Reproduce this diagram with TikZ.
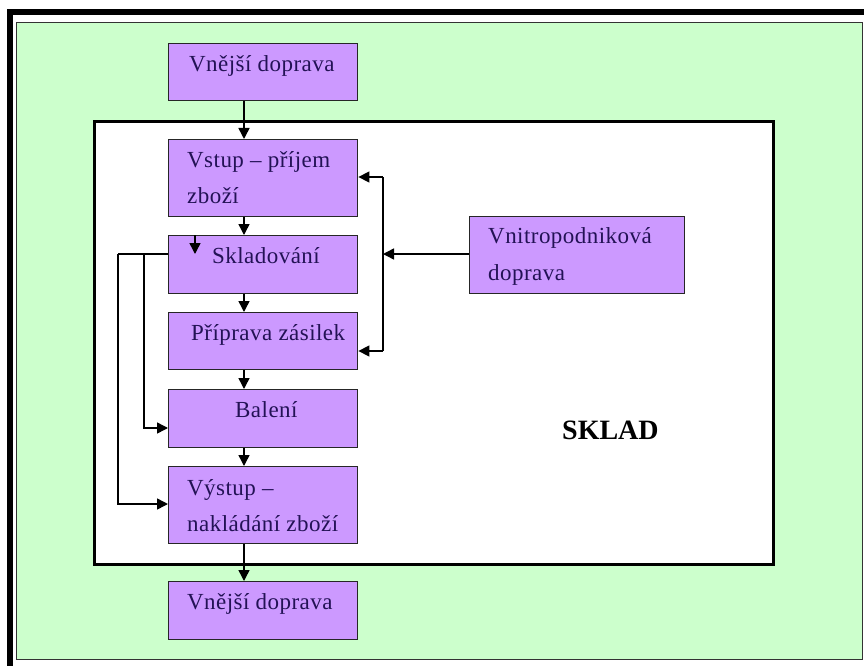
\documentclass[tikz,border=0pt]{standalone}
\usepackage{fontspec}
\setmainfont{Liberation Serif}
\usetikzlibrary{arrows.meta}
\definecolor{lilac}{RGB}{204,153,255}
\definecolor{mint}{RGB}{204,255,204}
\definecolor{navy}{RGB}{35,18,85}
\tikzset{
  box/.style={draw=black!85, line width=1.4pt, fill=lilac, inner sep=0pt},
  lbl/.style={anchor=base west, inner sep=0pt, text=navy, font=\fontsize{23}{26}\selectfont\addfontfeature{LetterSpace=2}},
  conn/.style={draw=black, line width=1.5pt},
  arr/.style={conn, -{Triangle[length=11pt,width=11pt]}},
}
\newcommand{\mybox}[5]{\node[box, minimum width=#4pt-#2pt, minimum height=#5pt-#3pt, anchor=north west] (#1) at (#2,#3) {};}
\begin{document}
\begin{tikzpicture}[x=1pt,y=-1pt]
\useasboundingbox (0,0) rectangle (864,666);
\fill[white] (0,0) rectangle (864,666);
% outer green panel
\node[draw=black!80, line width=0.9pt, fill=mint, minimum width=846pt, minimum height=637pt, anchor=north west, inner sep=0pt] (panel) at (16,22) {};
% thick frame lines
\draw[line width=6pt] (10,666) -- (10,12.5) -- (864,12.5);
% SKLAD white box
\node[draw=black, line width=3pt, fill=white, minimum width=679pt, minimum height=443pt, anchor=north west, inner sep=0pt] (sklad) at (93,120) {};
\node[anchor=base west, inner sep=0pt, font=\fontsize{28}{32}\selectfont\bfseries] (skladlbl) at (562,439) {SKLAD};
% boxes
\mybox{vd1}{168}{43}{357}{100}
\mybox{vstup}{168}{139}{357}{216}
\mybox{skl}{168}{235}{357}{293}
\mybox{prip}{168}{312}{357}{369}
\mybox{bal}{168}{389}{357}{447}
\mybox{vyst}{168}{466}{357}{543}
\mybox{vd2}{168}{581}{357}{639}
\mybox{vnit}{469}{216}{684}{293}
% labels
\node[lbl] (t1) at (189,72) {Vnější doprava};
\node[lbl] (t2a) at (187,167) {Vstup – příjem};
\node[lbl] (t2b) at (187,203) {zboží};
\node[lbl] (t3) at (212,263) {Skladování};
\node[lbl] (t4) at (191,340) {Příprava zásilek};
\node[lbl] (t5) at (235,417) {Balení};
\node[lbl] (t6a) at (187,495) {Výstup –};
\node[lbl] (t6b) at (187,531) {nakládání zboží};
\node[lbl] (t7) at (187,609) {Vnější doprava};
\node[lbl] (t8a) at (488,243) {Vnitropodniková};
\node[lbl] (t8b) at (488,280) {doprava};
% vertical flow arrows
\coordinate (ax) at (244,0);
\draw[arr] (vd1.south -| ax) -- (vstup.north -| ax);
\draw[arr] (vstup.south -| ax) -- (skl.north -| ax);
\draw[arr] (skl.south -| ax) -- (prip.north -| ax);
\draw[arr] (prip.south -| ax) -- (bal.north -| ax);
\draw[arr] (bal.south -| ax) -- (vyst.north -| ax);
\draw[arr] (vyst.south -| ax) -- (vd2.north -| ax);
% small arrow inside Skladování
\coordinate (sin) at (195,254);
\draw[arr] (skl.north -| sin) -- (sin);
% left bypass lines
\coordinate (lo) at (118,254);
\coordinate (li) at (144,254);
\coordinate (lob) at (118,504);
\coordinate (lib) at (144,428);
\draw[conn] (skl.west |- lo) -- (lo);
\draw[arr] (lo) -- (lob) -- (vyst.west |- lob);
\draw[arr] (li) -- (lib) -- (bal.west |- lib);
% right feed from Vnitropodniková doprava
\coordinate (rj) at (383,254);
\coordinate (rt) at (383,177);
\coordinate (rb) at (383,351);
\draw[arr] (vnit.west |- rj) -- (rj);
\draw[conn] (rt) -- (rb);
\draw[arr] (rt) -- (vstup.east |- rt);
\draw[arr] (rb) -- (prip.east |- rb);
\end{tikzpicture}
\end{document}
